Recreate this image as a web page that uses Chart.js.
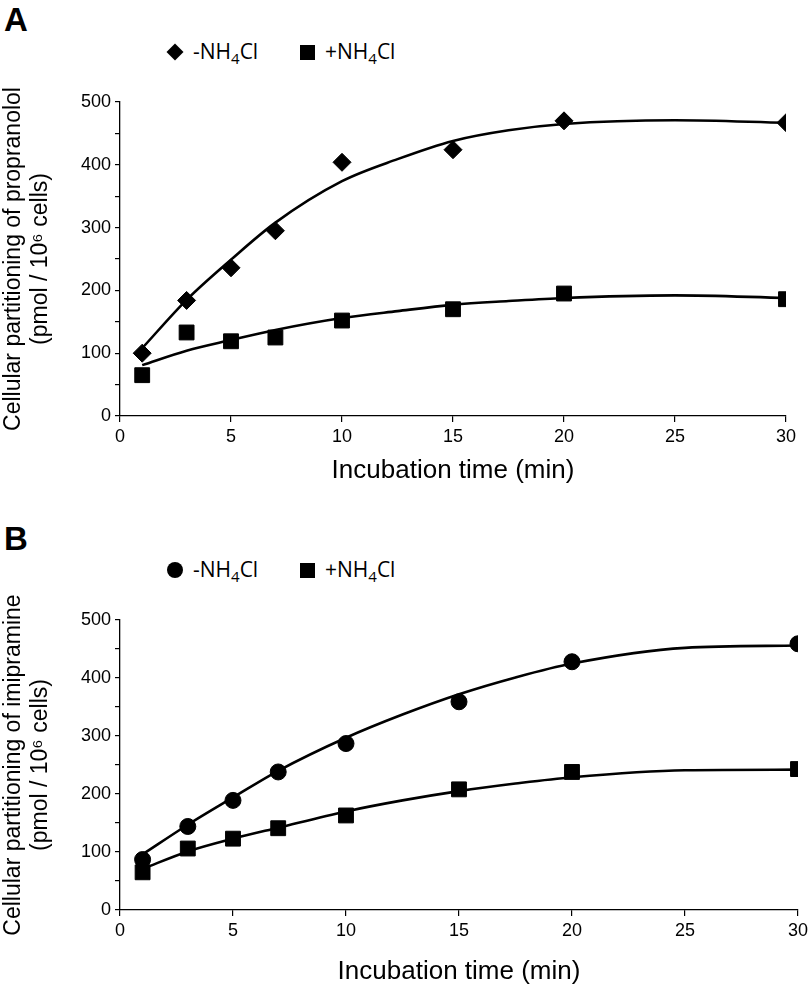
<!DOCTYPE html>
<html>
<head>
<meta charset="utf-8">
<script src="https://cdn.jsdelivr.net/npm/chart.js@4.4.1/dist/chart.umd.min.js"></script>
<style>
  body { margin: 0; background: #fff; width: 812px; height: 991px; position: relative; overflow: hidden; }
  canvas { position: absolute; left: 0; }
  .panel { position: absolute; left: 4px; font: bold 33px "Liberation Sans", Arial, sans-serif; color: #000; }
  .legend { position: absolute; font: 21px "Open Sans", sans-serif; color: #000; }
  .legend span.item { position: absolute; white-space: nowrap; }
  .mk { position: absolute; background: #000; }
  sub { font-size: 15px; vertical-align: -5px; line-height: 0; }
</style>
</head>
<body>
<div class="panel" style="top:1px">A</div>
<div class="panel" style="top:520px">B</div>
<div class="legend" id="legendA" style="top:37px"></div>
<div class="legend" id="legendB" style="top:555px"></div>
<canvas id="chartA" width="812" height="490" style="top:0"></canvas>
<canvas id="chartB" width="812" height="501" style="top:490px"></canvas>
<script>
// sampling times (min)
const times = [1, 3, 5, 7, 10, 15, 20, 30];

// A: propranolol
const propMinus = [100, 184, 236, 295, 404, 424, 470, 467];
const propPlus = [65, 133, 119, 125, 152, 170, 195, 186];

// B: imipramine
const imiMinus = [87, 144, 189, 238, 287, 359, 428, 459];
const imiPlus = [65, 106, 123, 141, 163, 208, 238, 243];

// trend lines
const fitX = [1, 3, 5, 7, 10, 12.5, 15, 17.5, 20, 25, 30];
const propMinusFit = [108, 185, 249, 308, 374, 409, 438, 455, 465, 471, 467];
const propPlusFit = [81, 104, 121, 137, 156, 167, 177, 183, 188, 192, 188];
const imiMinusFit = [96, 147, 194, 240, 297, 337, 372, 401, 425, 452, 456];
const imiPlusFit = [71, 101, 123, 142, 170, 189, 205, 218, 229, 241, 242];

const xTicks = [0, 5, 10, 15, 20, 25, 30];
const yTicks = [0, 100, 200, 300, 400, 500];

const tickFont = { family: "'Liberation Sans Narrow', 'Liberation Sans', sans-serif", size: 18 };

function pts(xs, ys) {
  return xs.map((x, i) => ({ x: x, y: ys[i] }));
}

function buildChart(id, opts) {
  const datasets = [
    {
      label: "-NH4Cl",
      data: pts(times, opts.minus),
      pointStyle: opts.minusStyle,
      pointRadius: opts.minusStyle === "circle" ? 8 : 9,
      backgroundColor: "#000",
      borderColor: "#000",
      showLine: false
    },
    {
      label: "+NH4Cl",
      data: pts(times, opts.plus),
      pointStyle: "rect",
      pointRadius: 10.5,
      backgroundColor: "#000",
      borderColor: "#000",
      showLine: false
    },
    {
      label: "fit-",
      data: pts(fitX, opts.minusFit),
      showLine: true,
      pointRadius: 0,
      borderColor: "#000",
      borderWidth: 2.6,
      cubicInterpolationMode: "monotone"
    },
    {
      label: "fit+",
      data: pts(fitX, opts.plusFit),
      showLine: true,
      pointRadius: 0,
      borderColor: "#000",
      borderWidth: 2.6,
      cubicInterpolationMode: "monotone"
    }
  ];

  const chart = new Chart(document.getElementById(id), {
    type: "scatter",
    data: { datasets },
    options: {
      responsive: false,
      animation: false,
      layout: { padding: { top: opts.top, right: opts.right, left: 0, bottom: 0 } },
      plugins: { legend: { display: false }, tooltip: { enabled: false } },
      scales: {
        x: {
          type: "linear",
          min: 0,
          max: 30,
          afterBuildTicks: (s) => { s.ticks = xTicks.map(v => ({ value: v })); },
          afterFit: (s) => { s.height = opts.xHeight; },
          grid: { drawOnChartArea: false, drawTicks: true, tickLength: 6, color: "#000", lineWidth: 1.2 },
          border: { color: "#000", width: 1.3 },
          ticks: { color: "#000", font: tickFont, padding: 4, maxRotation: 0 },
          title: {
            display: true,
            text: "Incubation time (min)",
            color: "#000",
            font: { family: "'Liberation Sans Narrow', 'Liberation Sans', sans-serif", size: 26 },
            padding: { top: 4 }
          }
        },
        y: {
          min: 0,
          max: 500,
          afterBuildTicks: (s) => {
            const t = [];
            for (let v = 0; v <= 500; v += 50) t.push({ value: v });
            s.ticks = t;
          },
          afterFit: (s) => { s.width = 120; },
          grid: { drawOnChartArea: false, drawTicks: true, tickLength: 5, color: "#000", lineWidth: 1.2 },
          border: { color: "#000", width: 1.3 },
          ticks: {
            color: "#000",
            font: tickFont,
            padding: 4,
            callback: (v) => (yTicks.includes(v) ? v : "")
          },
          title: {
            display: true,
            text: [opts.yTitle, "(pmol / 10\u2076 cells)"],
            color: "#000",
            font: { family: "'Liberation Sans', Arial, sans-serif", size: 23, lineHeight: 1.17 },
            padding: { top: 0, bottom: 0 }
          }
        }
      }
    }
  });
  return chart;
}

function buildLegend(id, chart, minusShape) {
  const box = document.getElementById(id);
  const items = chart.data.datasets.slice(0, 2);
  const xs = [{ mk: 167, tx: 193 }, { mk: 299, tx: 325 }];
  items.forEach((ds, i) => {
    const mk = document.createElement("div");
    mk.className = "mk";
    const shape = i === 0 ? minusShape : "rect";
    if (shape === "rectRot") {
      mk.style.cssText = `left:${xs[i].mk + 2}px;top:9px;width:12px;height:12px;transform:rotate(45deg);`;
    } else if (shape === "circle") {
      mk.style.cssText = `left:${xs[i].mk}px;top:7px;width:16px;height:16px;border-radius:50%;`;
    } else {
      mk.style.cssText = `left:${xs[i].mk + 1}px;top:8px;width:15px;height:15px;`;
    }
    box.appendChild(mk);
    const tx = document.createElement("span");
    tx.className = "item";
    tx.style.left = xs[i].tx + "px";
    tx.innerHTML = ds.label.replace("NH4", "NH<sub>4</sub>");
    box.appendChild(tx);
  });
}

const chartA = buildChart("chartA", {
  minus: propMinus, plus: propPlus, minusFit: propMinusFit, plusFit: propPlusFit,
  minusStyle: "rectRot", yTitle: "Cellular partitioning of propranolol",
  top: 102, right: 26, xHeight: 74
});
const chartB = buildChart("chartB", {
  minus: imiMinus, plus: imiPlus, minusFit: imiMinusFit, plusFit: imiPlusFit,
  minusStyle: "circle", yTitle: "Cellular partitioning of imipramine",
  top: 130, right: 14, xHeight: 81
});
buildLegend("legendA", chartA, "rectRot");
buildLegend("legendB", chartB, "circle");
</script>
</body>
</html>
